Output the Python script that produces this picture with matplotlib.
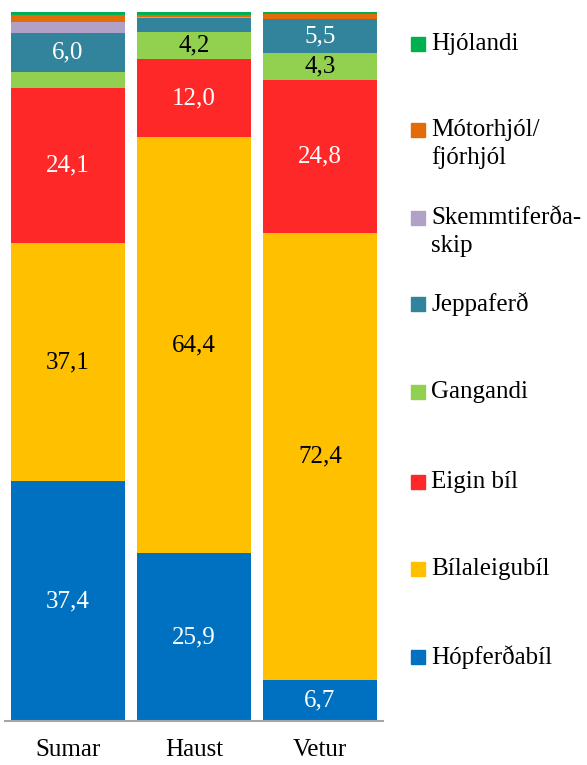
import matplotlib.pyplot as plt
import numpy as np

seasons = ["Sumar", "Haust", "Vetur"]
series = ["Hópferðabíl", "Bílaleigubíl", "Eigin bíl", "Gangandi",
          "Jeppaferð", "Skemmtiferða-\nskip", "Mótorhjól/\nfjórhjól", "Hjólandi"]
hopferdabil = [37.4, 25.9, 6.7]
bilaleigubil = [37.1, 64.4, 72.4]
eigin_bil = [24.1, 12.0, 24.8]
gangandi = [2.6, 4.2, 4.3]
jeppaferd = [6.0, 2.2, 5.5]
skemmtiferdaskip = [1.7, 0.1, 0.0]
motorhjol = [1.1, 0.4, 0.8]
hjolandi = [0.5, 0.4, 0.4]

colors = ["#0070C0", "#FFC000", "#FF2828", "#92D050",
          "#31849B", "#B2A1C7", "#E36C09", "#00B050"]
label_colors = ["white", "black", "white", "black", "white", "black", "black", "black"]

values = np.array([hopferdabil, bilaleigubil, eigin_bil, gangandi,
                   jeppaferd, skemmtiferdaskip, motorhjol, hjolandi])
totals = values.sum(axis=0)
shares = values / totals * 100  # 100% stacked

plt.rcParams['font.family'] = ['Liberation Serif', 'DejaVu Serif']

fig = plt.figure(figsize=(5.87, 7.65), dpi=100)
ax = fig.add_axes([5 / 587, 44 / 765, 378 / 587, 709 / 765])

x = np.arange(len(seasons))
bottom = np.zeros(len(seasons))
for i, name in enumerate(series):
    ax.bar(x, shares[i], 0.9, bottom=bottom, color=colors[i], linewidth=0)
    for j in range(len(seasons)):
        if values[i, j] >= 4:
            ax.text(x[j], bottom[j] + shares[i, j] / 2, f"{values[i, j]:.1f}".replace(".", ","),
                    ha="center", va="center", fontsize=18, color=label_colors[i])
    bottom += shares[i]

ax.set_xlim(-0.5, 2.5)
ax.set_ylim(0, 100)
ax.set_yticks([])
ax.set_xticks(x)
ax.set_xticklabels(seasons, fontsize=18)
ax.tick_params(axis="x", length=0, pad=13)
for s in ["top", "right", "left"]:
    ax.spines[s].set_visible(False)
ax.spines["bottom"].set_color("#A6A6A6")
ax.spines["bottom"].set_linewidth(1.5)

# legend, top entry first
legend_y = [44, 144, 232, 304, 392, 482, 569, 657]
order = list(range(len(series)))[::-1]
for k, i in enumerate(order):
    y = legend_y[k]
    first_line_y = y - 14 if "\n" in series[i] else y
    fig.patches.append(plt.Rectangle((411 / 587, 1 - (first_line_y + 7) / 765), 14 / 587, 14 / 765,
                                     transform=fig.transFigure, color=colors[i]))
    fig.text(431 / 587, 1 - y / 765, series[i], fontsize=18, va="center", ha="left",
             linespacing=1.3)

fig.savefig("out.png", dpi=100)
